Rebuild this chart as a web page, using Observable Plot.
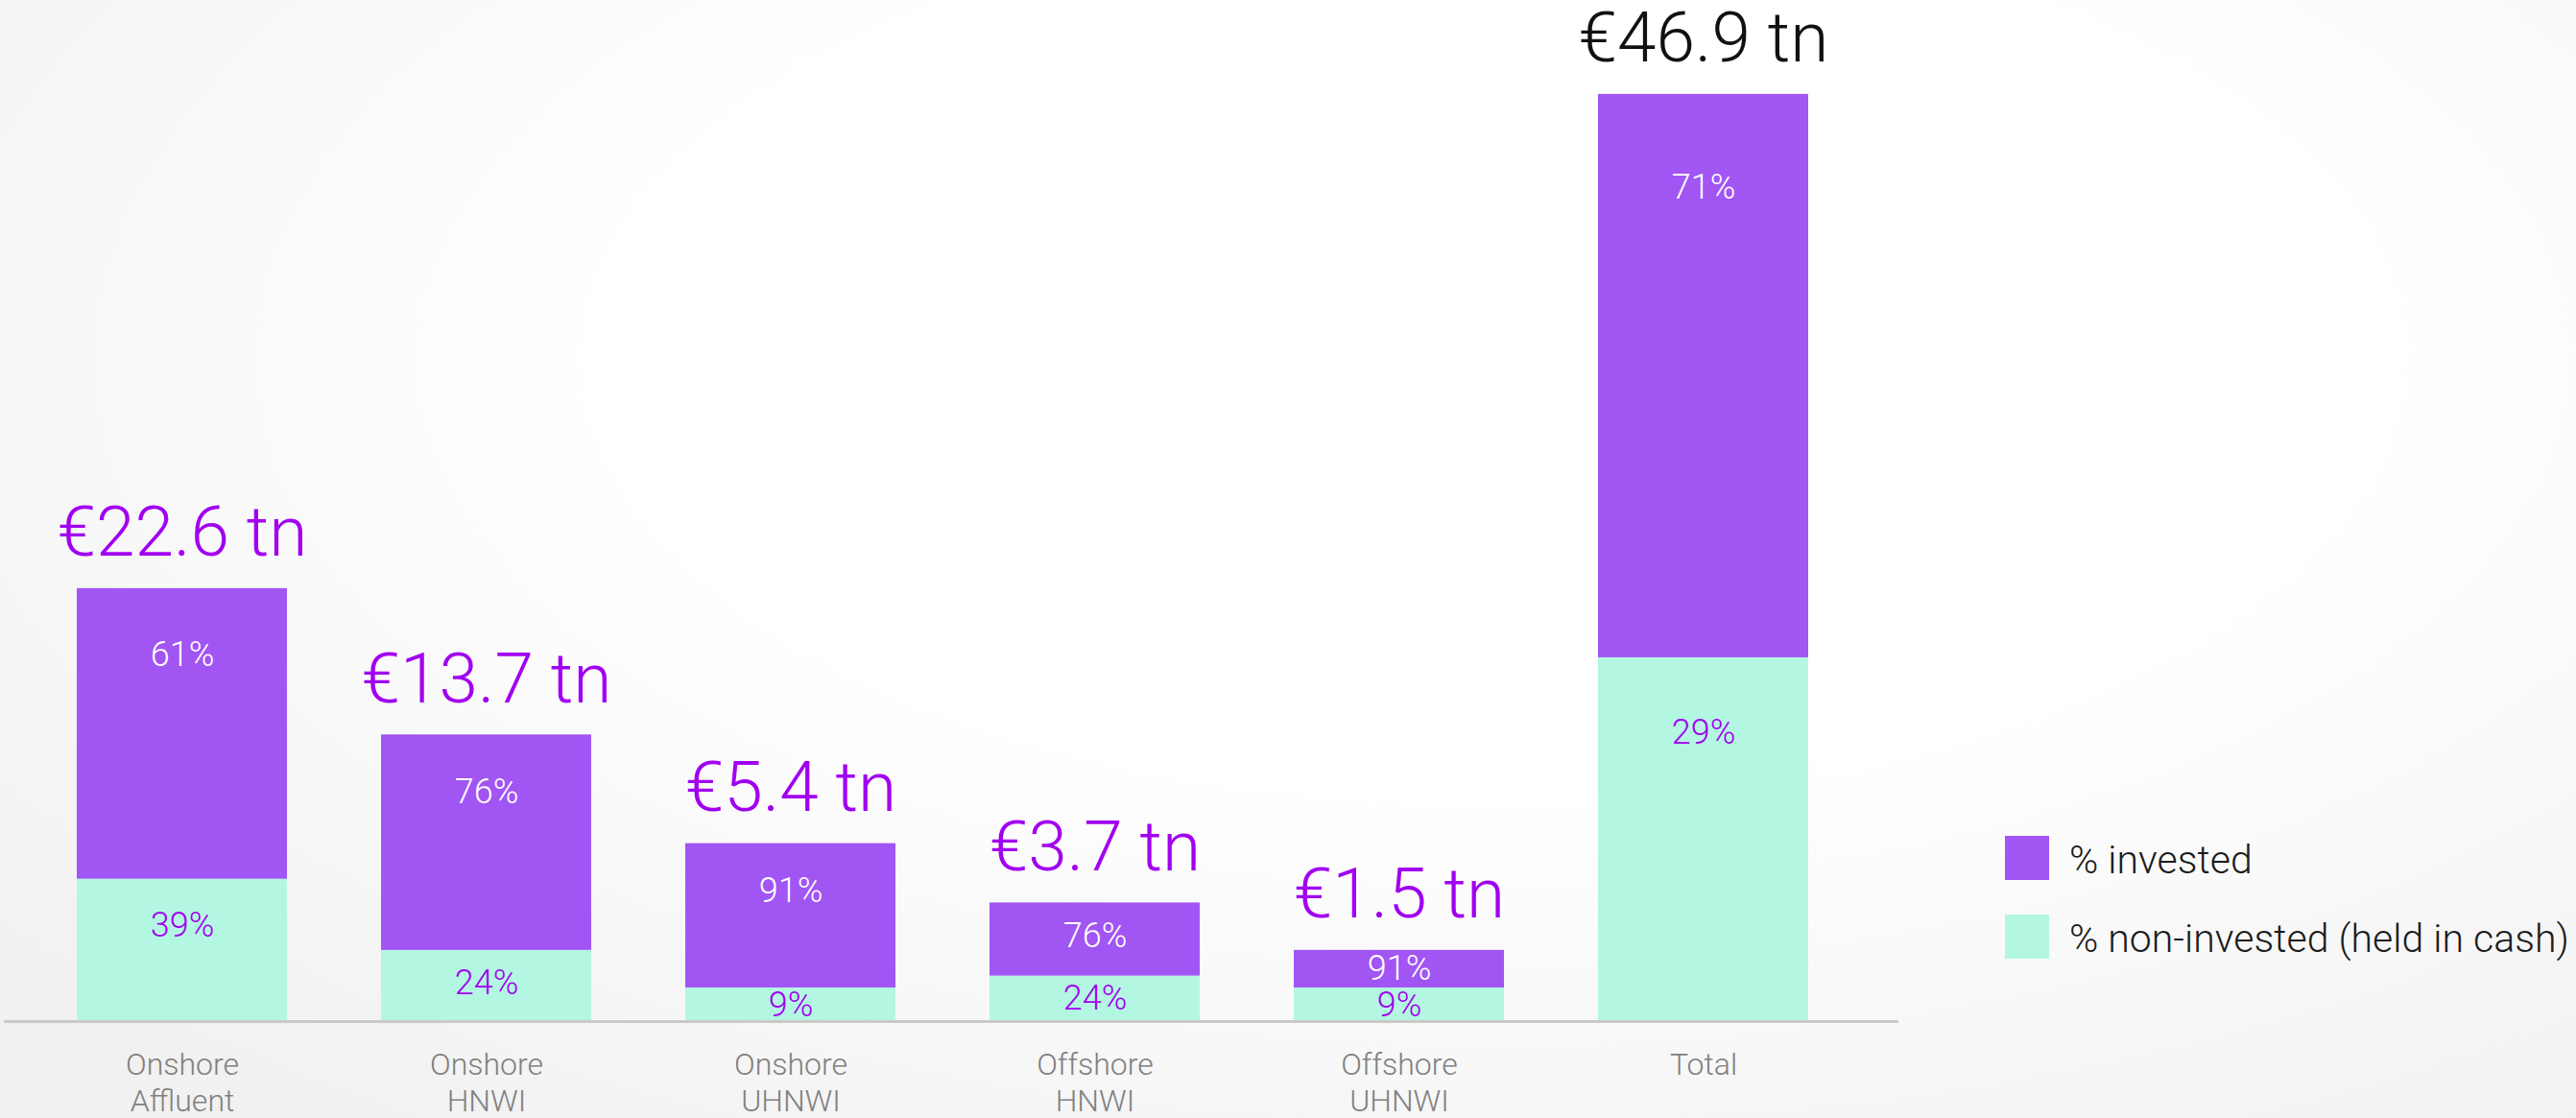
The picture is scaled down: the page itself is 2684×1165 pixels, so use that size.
<!DOCTYPE html>
<html>
<head>
<meta charset="utf-8">
<script src="https://cdn.jsdelivr.net/npm/d3@7"></script>
<script src="https://cdn.jsdelivr.net/npm/@observablehq/plot@0.6"></script>
<style>
  html, body { margin: 0; padding: 0; }
  body {
    width: 2684px; height: 1165px; overflow: hidden;
    background: radial-gradient(ellipse 75% 85% at 58% 32%, #ffffff 45%, #f1f1f1 100%);
    font-family: Roboto, "Noto Sans", sans-serif;
  }
  #wrap { position: relative; width: 2684px; height: 1165px; }
  #chart svg { background: transparent; overflow: visible; }
  .lg-sw { position: absolute; width: 46px; height: 46px; }
  .lg-tx { position: absolute; font-size: 41px; font-weight: 300; color: #1c1c1c; line-height: 46px; white-space: nowrap; }
</style>
</head>
<body>
<div id="wrap">
  <div id="chart"></div>
  <div id="legend"></div>
</div>
<script>
// ---- data ----
const categories = ["Onshore\nAffluent", "Onshore\nHNWI", "Onshore\nUHNWI", "Offshore\nHNWI", "Offshore\nUHNWI", "Total"];
const totalLabels = ["€22.6 tn", "€13.7 tn", "€5.4 tn", "€3.7 tn", "€1.5 tn", "€46.9 tn"];
const investedPct = [61, 76, 91, 76, 91, 71];
const cashPct = [39, 24, 9, 24, 9, 29];
// segment heights as drawn in the reference (the bars are not to scale with the totals)
const investedDrawn = [14.7, 10.9, 7.3, 3.7, 1.9, 28.5];
const cashDrawn = [7.2, 3.6, 1.7, 2.3, 1.7, 18.4];
const seriesNames = ["% invested", "% non-invested (held in cash)"];
const seriesColors = ["#a155f3", "#b3f7e2"];

// ---- layout ----
const W = 2684, H = 1165;
const mTop = 34, mBottom = 101, mLeft = 4, mRight = 706;
const yMax = 50;
const pxPerUnit = (H - mTop - mBottom) / yMax;
const purpleText = "#a100f0";

const segs = [];
const pctLabels = [];
const tops = [];
categories.forEach((c, i) => {
  const cash = cashDrawn[i], inv = investedDrawn[i];
  segs.push({cat: c, series: seriesNames[1], y1: 0, y2: cash});
  segs.push({cat: c, series: seriesNames[0], y1: cash, y2: cash + inv});
  const off = (h) => { const hp = h * pxPerUnit; return Math.min(hp / 2, 4 * Math.sqrt(hp)) / pxPerUnit; };
  pctLabels.push({cat: c, y: cash + inv - off(inv), text: investedPct[i] + "%", fill: "#ffffff"});
  pctLabels.push({cat: c, y: cash - off(cash), text: cashPct[i] + "%", fill: purpleText});
  tops.push({cat: c, y: cash + inv, text: totalLabels[i], fill: c === "Total" ? "#111111" : purpleText});
});

const chart = Plot.plot({
  width: W,
  height: H,
  marginTop: mTop,
  marginBottom: mBottom,
  marginLeft: mLeft,
  marginRight: mRight,
  style: {fontFamily: "Roboto, 'Noto Sans', sans-serif", background: "transparent"},
  x: {domain: categories, paddingInner: 0.309, paddingOuter: 0.268, align: 0.447, label: null},
  y: {domain: [0, yMax], axis: null},
  color: {domain: seriesNames, range: seriesColors},
  marks: [
    Plot.barY(segs, {x: "cat", y1: "y1", y2: "y2", fill: "series"}),
    Plot.ruleY([0], {stroke: "#c9c9c9", strokeWidth: 3}),
    Plot.text(pctLabels, {x: "cat", y: "y", text: "text", fill: "fill", fontSize: 36, fontWeight: 300, textAnchor: "middle", lineAnchor: "middle"}),
    Plot.text(tops, {x: "cat", y: "y", text: "text", fill: "fill", fontSize: 73, fontWeight: 300, textAnchor: "middle", lineAnchor: "bottom", dy: -34}),
    Plot.axisX({tickSize: 0, tickPadding: 29, fontSize: 32, fontWeight: 300, lineHeight: 1.17, color: "#808080", label: null})
  ]
});
document.getElementById("chart").appendChild(chart);

// ---- legend ----
const legend = document.getElementById("legend");
const legendTops = [871, 953];
seriesNames.forEach((name, i) => {
  const sw = document.createElement("div");
  sw.className = "lg-sw";
  sw.style.left = "2089px";
  sw.style.top = legendTops[i] + "px";
  sw.style.background = seriesColors[i];
  legend.appendChild(sw);
  const tx = document.createElement("div");
  tx.className = "lg-tx";
  tx.style.left = "2156px";
  tx.style.top = (legendTops[i] + 2) + "px";
  tx.textContent = name;
  legend.appendChild(tx);
});
</script>
</body>
</html>
